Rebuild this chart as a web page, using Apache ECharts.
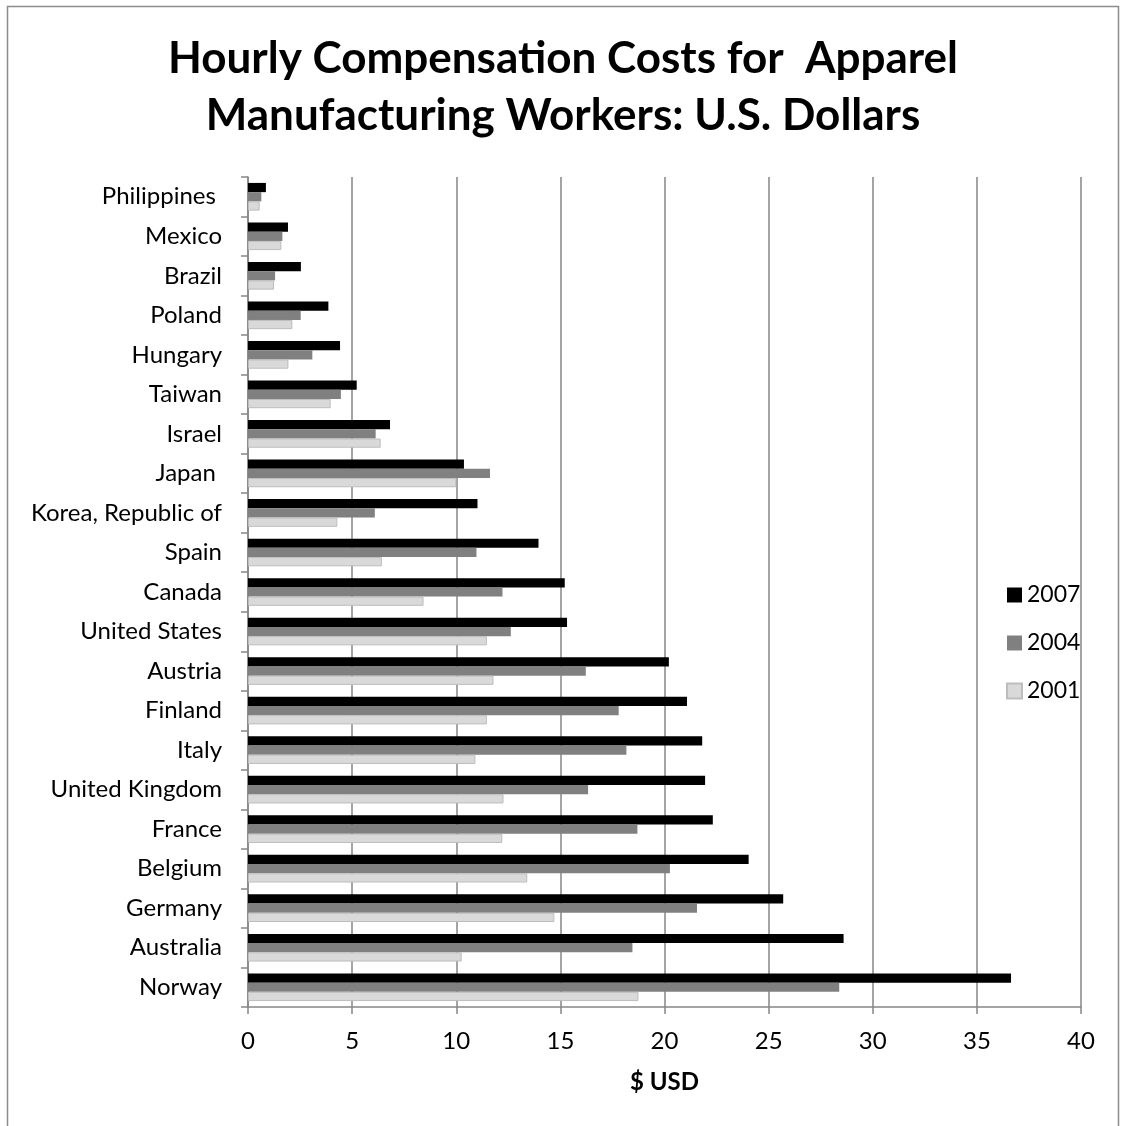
<!DOCTYPE html>
<html>
<head>
<meta charset="utf-8">
<script src="https://cdn.jsdelivr.net/npm/echarts@6/dist/echarts.min.js"></script>
<style>
  html, body { margin: 0; padding: 0; background: #ffffff; }
  #chart { width: 1126px; height: 1126px; }
</style>
</head>
<body>
<div id="chart"></div>
<script>
// Countries, listed top to bottom
const countries = [
  'Philippines ', 'Mexico', 'Brazil', 'Poland', 'Hungary', 'Taiwan', 'Israel',
  'Japan ', 'Korea, Republic of', 'Spain', 'Canada', 'United States', 'Austria',
  'Finland', 'Italy', 'United Kingdom', 'France', 'Belgium', 'Germany',
  'Australia', 'Norway'
];

// Hourly compensation costs, U.S. dollars
const cost2007 = [0.86, 1.92, 2.54, 3.86, 4.42, 5.22, 6.82, 10.37, 11.02, 13.95, 15.21,
  15.32, 20.21, 21.08, 21.81, 21.95, 22.32, 24.04, 25.70, 28.60, 36.64];
const cost2004 = [0.64, 1.65, 1.30, 2.53, 3.09, 4.46, 6.13, 11.62, 6.09, 10.97, 12.22,
  12.62, 16.22, 17.80, 18.17, 16.33, 18.70, 20.26, 21.56, 18.46, 28.39];
const cost2001 = [0.56, 1.60, 1.25, 2.13, 1.94, 3.97, 6.37, 10.00, 4.29, 6.43, 8.43,
  11.47, 11.79, 11.47, 10.92, 12.27, 12.21, 13.41, 14.71, 10.26, 18.75];

const xTicks = { min: 0, max: 40, interval: 5 };

const FONT = 'Lato, "Open Sans", sans-serif';
const AXIS_GREY = '#868686';

const chart = echarts.init(document.getElementById('chart'), null, { renderer: 'canvas' });

chart.setOption({
  backgroundColor: '#ffffff',
  animation: false,
  title: {
    text: 'Hourly Compensation Costs for  Apparel\nManufacturing Workers: U.S. Dollars',
    left: 'center',
    top: 25,
    textStyle: {
      fontFamily: FONT,
      fontSize: 44,
      fontWeight: 'bold',
      color: '#000000',
      lineHeight: 57
    }
  },
  graphic: [{
    type: 'rect',
    shape: { x: 7.5, y: 6.5, width: 1111, height: 1200 },
    style: { fill: 'none', stroke: '#8c8c8c', lineWidth: 1.5 },
    silent: true,
    z: -1
  }],
  legend: {
    orient: 'vertical',
    left: 1001,
    top: 578,
    itemWidth: 15,
    itemHeight: 15,
    itemGap: 24,
    icon: 'rect',
    data: ['2007', '2004', '2001'],
    textStyle: { fontFamily: FONT, fontSize: 23, color: '#000000', lineHeight: 24 }
  },
  grid: {
    left: 248,
    right: 45,
    top: 177,
    bottom: 119,
    containLabel: false
  },
  xAxis: {
    type: 'value',
    min: xTicks.min,
    max: xTicks.max,
    interval: xTicks.interval,
    name: '$ USD',
    nameLocation: 'middle',
    nameGap: 63,
    nameTextStyle: { fontFamily: FONT, fontSize: 24, fontWeight: 'bold', color: '#000000' },
    axisLine: { show: true, lineStyle: { color: AXIS_GREY, width: 1.5 } },
    axisTick: { show: true, length: 7, lineStyle: { color: AXIS_GREY, width: 1.5 } },
    axisLabel: { fontFamily: FONT, fontSize: 24, color: '#000000', margin: 22 },
    splitLine: { show: true, lineStyle: { color: AXIS_GREY, width: 1.5 } }
  },
  yAxis: {
    type: 'category',
    data: countries,
    inverse: true,
    axisLine: { show: true, lineStyle: { color: AXIS_GREY, width: 1.5 } },
    axisTick: { show: true, length: 7, alignWithLabel: false, lineStyle: { color: AXIS_GREY, width: 1.5 } },
    axisLabel: { fontFamily: FONT, fontSize: 24, color: '#000000', margin: 26 },
    splitLine: { show: false }
  },
  series: [
    {
      name: '2007',
      type: 'bar',
      data: cost2007,
      barGap: '0%',
      barCategoryGap: '30%',
      itemStyle: { color: '#000000' }
    },
    {
      name: '2004',
      type: 'bar',
      data: cost2004,
      barGap: '0%',
      barCategoryGap: '30%',
      itemStyle: { color: '#808080' }
    },
    {
      name: '2001',
      type: 'bar',
      data: cost2001,
      barGap: '0%',
      barCategoryGap: '30%',
      itemStyle: { color: '#d9d9d9', borderColor: '#bdbdbd', borderWidth: 1 }
    }
  ]
});
</script>
</body>
</html>
